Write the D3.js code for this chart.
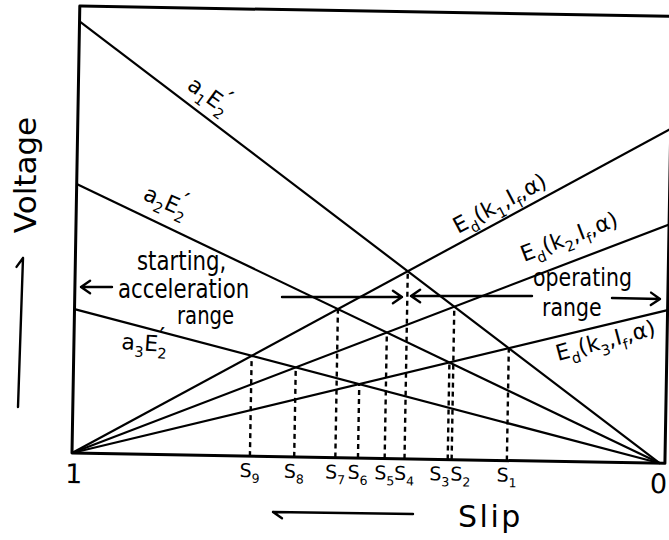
<!DOCTYPE html>
<html>
<head>
<meta charset="utf-8">
<script src="https://cdn.jsdelivr.net/npm/d3@7/dist/d3.min.js"></script>
<style>
  html, body { margin: 0; padding: 0; background: #fff; }
  svg { display: block; }
</style>
</head>
<body>
<svg id="chart" width="669" height="540"></svg>
<script>
// Slip axis: standstill (s = 1) on the left, synchronous speed (s = 0) on the right
const slipDomain = [1, 0];
const endLabels = ["1", "0"];
const voltageMax = 100;

// Rotor voltages a·E2' fall linearly from their standstill value to zero at s = 0
const rotorNames = ["a_1E_2^′", "a_2E_2^′", "a_3E_2^′"];
const rotorAtStandstill = [96.6, 60.2, 32.2];

// DC-link counter voltages Ed(k, If, α) rise linearly from zero at s = 1
const linkNames = ["E_d(k_1,I_f,α)", "E_d(k_2,I_f,α)", "E_d(k_3,I_f,α)"];
const linkAtSync = [74.2, 53.0, 34.0];

// Operating points: which rotor line meets which link line
const pointNames = ["S_1", "S_2", "S_3", "S_4", "S_5", "S_6", "S_7", "S_8", "S_9"];
const pointRotor = [0, 0, 1, 0, 1, 2, 1, 2, 2];
const pointLink  = [2, 1, 2, 0, 1, 2, 0, 1, 0];

const rangeNotes = [["starting,", "acceleration", "range"], ["operating", "range"]];
const axisTitles = ["Voltage", "Slip"];

const ink = "#000";
const font = "'DejaVu Sans', 'Liberation Sans', sans-serif";
const svg = d3.select("#chart");

const x = d3.scaleLinear().domain(slipDomain).range([0, 588]);
const y = d3.scaleLinear().domain([0, voltageMax]).range([0, -447]);
const frameRight = x(0) + 5;
const sEdge = x.invert(frameRight);

// the whole diagram sits slightly tilted on the page
const plot = svg.append("g").attr("transform", "translate(72,453) rotate(1)");

const line = d3.line().x(d => x(d[0])).y(d => y(d[1]));

// frame
plot.append("path")
  .attr("d", `M0,0 L0,${y(voltageMax)} L${frameRight},${y(voltageMax)} L${frameRight},0 Z`)
  .attr("fill", "none").attr("stroke", ink).attr("stroke-width", 3)
  .attr("stroke-linejoin", "round");

// rotor voltage lines
plot.selectAll("path.rotor").data(rotorAtStandstill).join("path")
  .attr("class", "rotor")
  .attr("d", a => line([[1, a], [0, 0]]))
  .attr("fill", "none").attr("stroke", ink).attr("stroke-width", 2.2);

// dc-link voltage lines
plot.selectAll("path.link").data(linkAtSync).join("path")
  .attr("class", "link")
  .attr("d", b => line([[1, 0], [sEdge, b * (1 - sEdge)]]))
  .attr("fill", "none").attr("stroke", ink).attr("stroke-width", 2.2);

// operating points: a·s = b·(1 − s)
const points = pointNames.map((name, i) => {
  const a = rotorAtStandstill[pointRotor[i]];
  const b = linkAtSync[pointLink[i]];
  const s = b / (a + b);
  return { name, s, v: a * s };
});

plot.selectAll("line.drop").data(points).join("line")
  .attr("class", "drop")
  .attr("x1", d => x(d.s)).attr("x2", d => x(d.s))
  .attr("y1", 0).attr("y2", d => y(d.v))
  .attr("stroke", ink).attr("stroke-width", 2.4)
  .attr("stroke-dasharray", "5,4");

// text with "_x" subscripts and "^x" marks stacked above the preceding subscript
function rich(sel, str, size) {
  const tokens = [];
  let i = 0;
  while (i < str.length) {
    const c = str[i];
    if (c === "_" || c === "^") { tokens.push({ t: str[i + 1], k: c === "_" ? "sub" : "sup" }); i += 2; }
    else {
      let j = i;
      while (j < str.length && str[j] !== "_" && str[j] !== "^") j++;
      tokens.push({ t: str.slice(i, j), k: "n" }); i = j;
    }
  }
  const subSize = size * 0.66;
  let cur = 0;
  tokens.forEach(tk => {
    const target = tk.k === "sub" ? size * 0.3 : tk.k === "sup" ? -size * 0.32 : 0;
    const ts = sel.append("tspan").text(tk.t).attr("dy", target - cur);
    if (tk.k === "sub") ts.attr("font-size", subSize);
    if (tk.k === "sup") ts.attr("font-size", size * 1.1).attr("dx", -subSize * 0.6);
    cur = target;
  });
}

// slip markers under the axis; close pairs are spread apart a little
const labelNudge = { S_3: -8, S_2: 9 };
plot.selectAll("text.pt").data(points).join("text")
  .attr("class", "pt")
  .attr("x", d => x(d.s) + (labelNudge[d.name] || 0)).attr("y", 21)
  .attr("text-anchor", "middle")
  .attr("font-family", font).attr("font-size", 19).attr("fill", ink)
  .each(function (d) { rich(d3.select(this), d.name, 19); });

// axis end values
plot.selectAll("text.end").data(endLabels).join("text")
  .attr("class", "end")
  .attr("x", (d, i) => i === 0 ? x(slipDomain[0]) + 2 : frameRight - 6)
  .attr("y", 30)
  .attr("text-anchor", "middle")
  .attr("font-family", font).attr("font-size", 27).attr("fill", ink)
  .text(d => d);

// line labels
const rotorPlace = [[186, 88, 36], [142, 199, 24], [121, 349, 4]];
rotorNames.forEach((nm, i) => {
  const [px, py, r] = rotorPlace[i];
  const t = svg.append("text")
    .attr("transform", `translate(${px},${py}) rotate(${r})`)
    .attr("font-family", font).attr("font-size", 22).attr("fill", ink);
  rich(t, nm, 22);
});

const linkPlace = [[458, 234, -28], [524, 262, -21], [558, 361, -15]];
linkNames.forEach((nm, i) => {
  const [px, py, r] = linkPlace[i];
  const t = svg.append("text")
    .attr("transform", `translate(${px},${py}) rotate(${r})`)
    .attr("font-family", font).attr("font-size", 22).attr("fill", ink);
  rich(t, nm, 22);
});

// range notes
function note(str, px, py, size) {
  svg.append("text")
    .attr("transform", `translate(${px},${py}) scale(0.82,1)`)
    .attr("font-family", font).attr("font-size", size).attr("fill", ink)
    .text(str);
}
note(rangeNotes[0][0], 137, 270, 26);
note(rangeNotes[0][1], 118, 298, 26);
note(rangeNotes[0][2], 177, 324, 24);
note(rangeNotes[1][0], 533, 286, 25);
note(rangeNotes[1][1], 542, 316, 25);

// arrows: full chevron heads, or a single barb
function arrow(x1, y1, x2, y2, single) {
  const ang = Math.atan2(y2 - y1, x2 - x1);
  const L = 11, spread = 0.6;
  let d = `M${x1},${y1} L${x2},${y2}`;
  const b1 = [x2 - L * Math.cos(ang - spread), y2 - L * Math.sin(ang - spread)];
  const b2 = [x2 - L * Math.cos(ang + spread), y2 - L * Math.sin(ang + spread)];
  if (single) d += ` M${x2},${y2} L${b2[0]},${b2[1]}`;
  else d += ` M${b1[0]},${b1[1]} L${x2},${y2} L${b2[0]},${b2[1]}`;
  svg.append("path").attr("d", d)
    .attr("fill", "none").attr("stroke", ink).attr("stroke-width", 2.4)
    .attr("stroke-linecap", "round").attr("stroke-linejoin", "round");
}
arrow(112, 287, 81, 287);
arrow(282, 297, 402, 297);
arrow(532, 296, 411, 296);
arrow(612, 298, 660, 299);
arrow(18, 407, 23, 258, true);
arrow(413, 514, 273, 512, true);

// axis titles
svg.append("text")
  .attr("transform", "translate(36,175) rotate(-90)")
  .attr("text-anchor", "middle")
  .attr("font-family", font).attr("font-size", 31).attr("fill", ink)
  .text(axisTitles[0]);

svg.append("text")
  .attr("x", 458).attr("y", 527)
  .attr("font-family", font).attr("font-size", 30).attr("fill", ink)
  .attr("letter-spacing", 2.5)
  .text(axisTitles[1]);
</script>
</body>
</html>
